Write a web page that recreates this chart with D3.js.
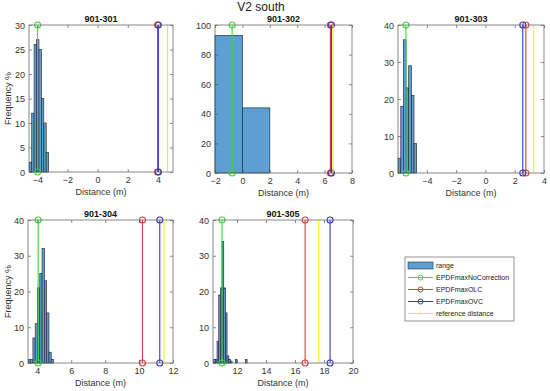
<!DOCTYPE html>
<html>
<head>
<meta charset="utf-8">
<script src="https://cdn.jsdelivr.net/npm/d3@7"></script>
<style>
  body { margin: 0; background: #fff; }
  svg { font-family: "Liberation Sans", Arial, sans-serif; }
</style>
</head>
<body>
<div id="canvas"></div>
<script>
"use strict"

/* Data */
let panelNames = ["901-301", "901-302", "901-303", "901-304", "901-305"];

// histogram bins: first edge, bin width, frequency % per bin
let binStart = [-4.53, -2, -5.96, 3.47, 10.40];
let binWidth = [0.16, 2, 0.18, 0.135, 0.115];
let counts301 = [2, 12, 26, 27, 25, 15, 10, 4];
let counts302 = [93, 44];
let counts303 = [4, 18, 36, 23, 29, 21, 8];
let counts304 = [1, 1, 7, 11, 21, 25, 32, 23, 14, 3, 1];
let counts305 = [1, 1, 6, 19, 21, 34, 21, 14, 2, 1, 0.5, 0, 0, 1, 0, 0, 0, 0, 0, 1];
let allCounts = [counts301, counts302, counts303, counts304, counts305];

// vertical marker lines (m)
let epdfNoCorrection = [-3.98, -0.75, -5.43, 4.05, 10.97];
let epdfOLC = [3.98, 6.42, 2.76, 10.2, 16.7];
let epdfOVC = [4.03, 6.5, 2.55, 11.22, 18.42];
let refDistance = [4.64, 6.62, 3.3, 11.47, 17.64];

// axis limits and ticks
let xDomains = [[-4.55, 5.0], [-2, 8], [-5.97, 4], [3.45, 12], [10.35, 20]];
let yDomains = [[0, 30], [0, 100], [0, 40], [0, 40], [0, 40]];
let xTickValues = [[-4, -2, 0, 2, 4], [-2, 0, 2, 4, 6, 8], [-4, -2, 0, 2, 4], [4, 6, 8, 10, 12], [12, 14, 16, 18, 20]];
let yTickValues = [[0, 5, 10, 15, 20, 25, 30], [0, 20, 40, 60, 80, 100], [0, 10, 20, 30, 40], [0, 10, 20, 30, 40], [0, 10, 20, 30, 40]];

let legendLabels = ["range", "EPDFmaxNoCorrection", "EPDFmaxOLC", "EPDFmaxOVC", "reference distance"];

/* Drawing configuration */
let svgWidth = 550;
let svgHeight = 391;

// axes boxes [left, top, right, bottom]
let boxes = [
    [29, 25, 173, 172],
    [215, 25, 352, 173],
    [398, 25, 544, 173],
    [28, 220, 173, 363],
    [213, 220, 353, 363]
];

let barFill = "#5d9fd3";
let barEdge = "#263040";
let axisColor = "#404040";
let lineColors = { green: "#3ad83a", red: "#dc3b3b", blue: "#3636c4", yellow: "#f2f200" };

let svg = d3.select("#canvas")
    .append("svg")
    .attr("width", svgWidth)
    .attr("height", svgHeight);

svg.append("rect")
    .attr("width", svgWidth)
    .attr("height", svgHeight)
    .attr("fill", "#fff");

/* Overall title */
svg.append("text")
    .attr("x", 261)
    .attr("y", 11)
    .attr("text-anchor", "middle")
    .attr("font-size", 12)
    .attr("fill", "#222")
    .text("V2 south");

function drawMarkerLine(g, xScale, yScale, value, color, withCircles) {
    let x = xScale(value);
    g.append("line")
        .attr("x1", x).attr("x2", x)
        .attr("y1", yScale.range()[0]).attr("y2", yScale.range()[1])
        .attr("stroke", color)
        .attr("stroke-width", 1.1);
    if (withCircles) {
        [yScale.range()[0], yScale.range()[1]].forEach(function (y) {
            g.append("circle")
                .attr("cx", x).attr("cy", y).attr("r", 3)
                .attr("fill", "none")
                .attr("stroke", color)
                .attr("stroke-width", 1.1);
        });
    }
}

panelNames.forEach(function (name, i) {
    let b = boxes[i];
    let xScale = d3.scaleLinear().domain(xDomains[i]).range([b[0], b[2]]);
    let yScale = d3.scaleLinear().domain(yDomains[i]).range([b[3], b[1]]);
    let g = svg.append("g");

    // white axes background
    g.append("rect")
        .attr("x", b[0]).attr("y", b[1])
        .attr("width", b[2] - b[0]).attr("height", b[3] - b[1])
        .attr("fill", "#fff");

    // histogram bars
    let bins = allCounts[i].map(function (c, k) {
        return { x0: binStart[i] + k * binWidth[i], x1: binStart[i] + (k + 1) * binWidth[i], value: c };
    }).filter(function (d) { return d.value > 0; });

    g.selectAll("rect.bar")
        .data(bins)
        .join("rect")
        .attr("class", "bar")
        .attr("x", function (d) { return xScale(d.x0); })
        .attr("width", function (d) { return xScale(d.x1) - xScale(d.x0); })
        .attr("y", function (d) { return yScale(d.value); })
        .attr("height", function (d) { return yScale(0) - yScale(d.value); })
        .attr("fill", barFill)
        .attr("stroke", barEdge)
        .attr("stroke-width", 0.7);

    // vertical lines
    drawMarkerLine(g, xScale, yScale, epdfNoCorrection[i], lineColors.green, true);
    drawMarkerLine(g, xScale, yScale, epdfOLC[i], lineColors.red, true);
    drawMarkerLine(g, xScale, yScale, epdfOVC[i], lineColors.blue, true);
    drawMarkerLine(g, xScale, yScale, refDistance[i], lineColors.yellow, false);

    // axes with inward ticks
    let xAxis = g.append("g")
        .attr("transform", "translate(0," + b[3] + ")")
        .call(d3.axisBottom(xScale).tickValues(xTickValues[i]).tickSizeInner(-3).tickSizeOuter(0).tickPadding(5));
    let xAxisTop = g.append("g")
        .attr("transform", "translate(0," + b[1] + ")")
        .call(d3.axisTop(xScale).tickValues(xTickValues[i]).tickSizeInner(-3).tickSizeOuter(0).tickFormat(""));
    let yAxis = g.append("g")
        .attr("transform", "translate(" + b[0] + ",0)")
        .call(d3.axisLeft(yScale).tickValues(yTickValues[i]).tickSizeInner(-3).tickSizeOuter(0).tickPadding(4));
    let yAxisRight = g.append("g")
        .attr("transform", "translate(" + b[2] + ",0)")
        .call(d3.axisRight(yScale).tickValues(yTickValues[i]).tickSizeInner(-3).tickSizeOuter(0).tickFormat(""));

    [xAxis, xAxisTop, yAxis, yAxisRight].forEach(function (a) {
        a.select(".domain").remove();
        a.selectAll("line").attr("stroke", axisColor).attr("stroke-width", 0.6);
        a.selectAll("text")
            .attr("fill", "#333")
            .attr("font-size", 9)
            .attr("font-family", "'Liberation Sans', Arial, sans-serif");
    });
    yAxis.selectAll("text").attr("dy", "0.35em");

    // box
    g.append("rect")
        .attr("x", b[0]).attr("y", b[1])
        .attr("width", b[2] - b[0]).attr("height", b[3] - b[1])
        .attr("fill", "none")
        .attr("stroke", "#6a6a6a")
        .attr("stroke-width", 0.8);

    // panel title
    g.append("text")
        .attr("x", (b[0] + b[2]) / 2)
        .attr("y", b[1] - 3.5)
        .attr("text-anchor", "middle")
        .attr("font-size", 9)
        .attr("font-weight", "bold")
        .attr("fill", "#111")
        .text(name);

    // x label
    g.append("text")
        .attr("x", (b[0] + b[2]) / 2)
        .attr("y", b[3] + 23)
        .attr("text-anchor", "middle")
        .attr("font-size", 9)
        .attr("fill", "#333")
        .text("Distance (m)");

    // y label on left column
    if (i === 0 || i === 3) {
        g.append("text")
            .attr("transform", "translate(11," + ((b[1] + b[3]) / 2) + ") rotate(-90)")
            .attr("text-anchor", "middle")
            .attr("font-size", 9)
            .attr("fill", "#333")
            .text("Frequency %");
    }
});

/* Legend */
let legendX = 405;
let legendY = 257;
let legendW = 109;
let legendH = 64;
let rowStep = 12;

let legend = svg.append("g");
legend.append("rect")
    .attr("x", legendX).attr("y", legendY)
    .attr("width", legendW).attr("height", legendH)
    .attr("fill", "#fff")
    .attr("stroke", "#7a7a7a")
    .attr("stroke-width", 0.8);

let legendColors = [null, lineColors.green, lineColors.red, lineColors.blue, lineColors.yellow];

legendLabels.forEach(function (label, k) {
    let cy = legendY + 8.5 + k * rowStep;
    if (k === 0) {
        legend.append("rect")
            .attr("x", legendX + 3).attr("y", cy - 3.5)
            .attr("width", 25).attr("height", 7)
            .attr("fill", barFill)
            .attr("stroke", barEdge)
            .attr("stroke-width", 0.6);
    } else {
        legend.append("line")
            .attr("x1", legendX + 3).attr("x2", legendX + 28)
            .attr("y1", cy).attr("y2", cy)
            .attr("stroke", legendColors[k])
            .attr("stroke-width", 1);
        if (k < 4) {
            legend.append("circle")
                .attr("cx", legendX + 15.5).attr("cy", cy).attr("r", 2.5)
                .attr("fill", "none")
                .attr("stroke", legendColors[k])
                .attr("stroke-width", 1);
        } else {
            legend.append("circle")
                .attr("cx", legendX + 15.5).attr("cy", cy).attr("r", 1)
                .attr("fill", legendColors[k]);
        }
    }
    legend.append("text")
        .attr("x", legendX + 31)
        .attr("y", cy)
        .attr("dy", "0.35em")
        .attr("font-size", 7)
        .attr("fill", "#222")
        .text(label);
});
</script>
</body>
</html>
